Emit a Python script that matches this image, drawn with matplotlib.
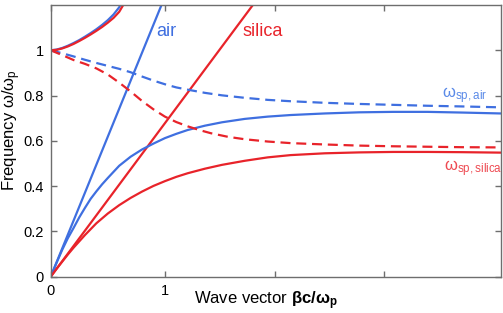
import matplotlib
matplotlib.use('Agg')
import matplotlib.pyplot as plt

plt.rcParams['font.family'] = ['Liberation Sans', 'DejaVu Sans']
plt.rcParams['mathtext.fontset'] = 'custom'
plt.rcParams['mathtext.rm'] = 'Liberation Sans'
plt.rcParams['mathtext.it'] = 'Liberation Sans:italic'
plt.rcParams['mathtext.bf'] = 'Liberation Sans:bold'

# light lines (omega = beta c / n)
air_line_x = [0, 0.97]
air_line_y = [0, 1.2]
silica_line_x = [0, 1.77]
silica_line_y = [0, 1.2]

# upper branches, starting at omega_p
air_upper_x = [0, 0.05, 0.1, 0.15, 0.2, 0.25, 0.3, 0.35, 0.4, 0.45, 0.5, 0.55, 0.6, 0.61]
air_upper_y = [1.0, 1.003, 1.01, 1.02, 1.032, 1.045, 1.06, 1.076, 1.093, 1.112, 1.133, 1.158, 1.19, 1.2]
silica_upper_x = [0, 0.05, 0.1, 0.15, 0.2, 0.25, 0.3, 0.35, 0.4, 0.45, 0.5, 0.55, 0.6, 0.635]
silica_upper_y = [1.0, 1.002, 1.008, 1.017, 1.028, 1.041, 1.055, 1.07, 1.086, 1.103, 1.122, 1.143, 1.17, 1.2]

# lower surface plasmon branches (solid)
air_sp_x = [0, 0.05, 0.1, 0.15, 0.2, 0.25, 0.3, 0.35, 0.4, 0.45, 0.5, 0.6, 0.7, 0.8, 0.9,
            1.0, 1.1, 1.2, 1.35, 1.5, 1.7, 1.9, 2.1, 2.4, 2.7, 3.0, 3.3, 3.6, 3.94]
air_sp_y = [0, 0.06, 0.118, 0.17, 0.215, 0.262, 0.304, 0.344, 0.377, 0.408, 0.436, 0.49, 0.53,
            0.562, 0.588, 0.612, 0.631, 0.648, 0.667, 0.682, 0.697, 0.707, 0.714, 0.721, 0.726,
            0.728, 0.728, 0.725, 0.721]
silica_sp_x = [0, 0.05, 0.1, 0.15, 0.2, 0.3, 0.4, 0.5, 0.6, 0.7, 0.8, 0.9, 1.0, 1.1, 1.2,
               1.35, 1.5, 1.7, 1.9, 2.1, 2.4, 2.7, 3.0, 3.3, 3.6, 3.94]
silica_sp_y = [0, 0.034, 0.066, 0.098, 0.128, 0.184, 0.236, 0.279, 0.316, 0.348, 0.376, 0.401,
               0.422, 0.441, 0.457, 0.477, 0.494, 0.512, 0.527, 0.537, 0.545, 0.549, 0.551,
               0.551, 0.55, 0.548]

# dashed branches
air_dash_x = [0, 0.1, 0.2, 0.3, 0.4, 0.5, 0.6, 0.7, 0.8, 0.9, 1.0, 1.1, 1.2, 1.35, 1.5, 1.7,
              1.9, 2.1, 2.4, 2.7, 3.0, 3.3, 3.6, 3.94]
air_dash_y = [1.0, 0.987, 0.973, 0.958, 0.944, 0.931, 0.918, 0.903, 0.884, 0.866, 0.85, 0.836,
              0.826, 0.812, 0.801, 0.79, 0.781, 0.775, 0.768, 0.763, 0.759, 0.755, 0.752, 0.748]
silica_dash_x = [0, 0.1, 0.2, 0.3, 0.4, 0.5, 0.6, 0.7, 0.8, 0.9, 1.0, 1.1, 1.2, 1.3, 1.4, 1.55,
                 1.7, 1.9, 2.1, 2.4, 2.7, 3.0, 3.3, 3.6, 3.94]
silica_dash_y = [1.0, 0.979, 0.957, 0.94, 0.92, 0.893, 0.857, 0.818, 0.776, 0.739, 0.707, 0.683,
                 0.664, 0.648, 0.634, 0.618, 0.607, 0.597, 0.59, 0.584, 0.579, 0.576, 0.574,
                 0.572, 0.571]

xticks = [0, 1, 1.96, 2.92]
xticklabels = ['0', '1', '', '']
yticks = [0, 0.2, 0.4, 0.6, 0.8, 1.0]
yticklabels = ['0', '0.2', '0.4', '0.6', '0.8', '1']

blue = '#3f6fe0'
red = '#e8232a'
lw = 1.6

fig = plt.figure(figsize=(5.03, 3.13), dpi=100)
ax = fig.add_axes([0.1008, 0.116, 0.8946, 0.868])

ax.plot(air_line_x, air_line_y, color=blue, lw=lw)
ax.plot(silica_line_x, silica_line_y, color=red, lw=lw)
ax.plot(air_sp_x, air_sp_y, color=blue, lw=lw)
ax.plot(silica_sp_x, silica_sp_y, color=red, lw=lw)
ax.plot(air_dash_x, air_dash_y, color=blue, lw=lw, dashes=(4.5, 2.6))
ax.plot(silica_dash_x, silica_dash_y, color=red, lw=lw, dashes=(4.5, 2.6))
ax.plot(air_upper_x, air_upper_y, color=blue, lw=lw)
ax.plot(silica_upper_x, silica_upper_y, color=red, lw=lw)

ax.set_xlim(0, 3.94)
ax.set_ylim(0, 1.2)
ax.set_xticks(xticks)
ax.set_xticklabels(xticklabels)
ax.set_yticks(yticks)
ax.set_yticklabels(yticklabels)

for s in ax.spines.values():
    s.set_color('#6e6e6e')
    s.set_linewidth(1.0)
ax.tick_params(direction='in', length=4, width=1.0, color='#6e6e6e',
               top=True, right=True, labelsize=10.5, pad=5)

ax.text(0.92, 1.085, 'air', color=blue, fontsize=13, va='center')
ax.text(1.675, 1.085, 'silica', color=red, fontsize=13, va='center')
ax.text(3.43, 0.8, r'$\mathrm{ω_{sp,air}}$', color='#5a8ae8', fontsize=12, va='center')
ax.text(3.44, 0.475, r'$\mathrm{ω_{sp,silica}}$', color='#ee4a52', fontsize=12, va='center')

ax.set_xlabel(r'Wave vector $\mathbf{βc/ω_p}$', fontsize=12)
ax.xaxis.set_label_coords((266 - 50.7) / 450, -0.045)
ax.set_ylabel(r'Frequency $\mathrm{ω/ω_p}$', fontsize=12)
ax.yaxis.set_label_coords(-0.062, 0.54)

fig.savefig('out.png', dpi=100)
